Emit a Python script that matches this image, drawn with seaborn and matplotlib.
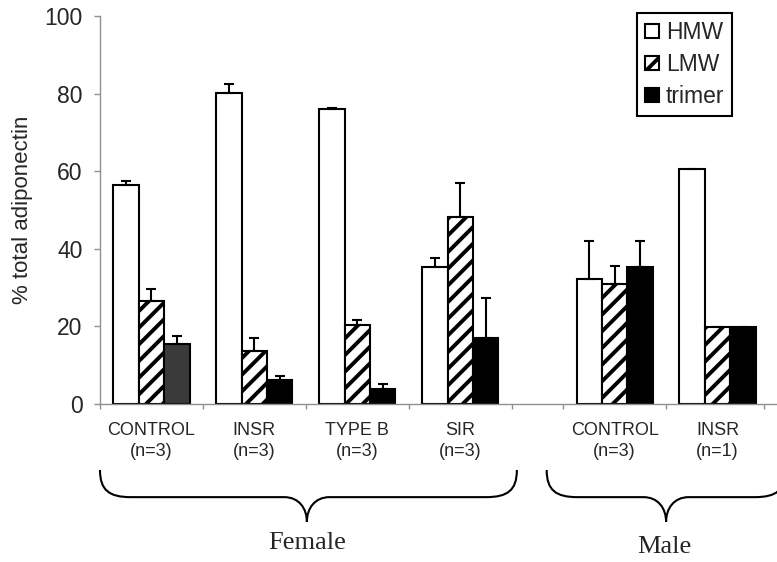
import numpy as np
import pandas as pd
import matplotlib
matplotlib.use("Agg")
import matplotlib.pyplot as plt
import matplotlib.transforms as mtransforms
from matplotlib.path import Path
from matplotlib.patches import PathPatch, Patch
import seaborn as sns

# Data
groups = ["CONTROL\n(n=3)", "INSR\n(n=3)", "TYPE B\n(n=3)", "SIR\n(n=3)",
          "CONTROL\n(n=3)", "INSR\n(n=1)"]
sex = ["Female", "Female", "Female", "Female", "Male", "Male"]
forms = ["HMW", "LMW", "trimer"]
hmw = [56.4, 80.2, 76.0, 35.2, 32.1, 60.5]
lmw = [26.5, 13.7, 20.4, 48.1, 30.9, 19.8]
trimer = [15.5, 6.2, 3.8, 16.9, 35.2, 19.8]
hmw_err = [1.2, 2.4, 0.3, 2.4, 10.0, np.nan]
lmw_err = [3.1, 3.2, 1.2, 8.9, 4.7, np.nan]
trimer_err = [2.1, 1.0, 1.3, 10.3, 6.9, np.nan]

# x positions (female groups one slot apart, male block shifted by half a slot)
group_pos = [0, 1, 2, 3, 4.5, 5.5]

df = pd.DataFrame({
    "pos": group_pos * 3,
    "form": np.repeat(forms, len(groups)),
    "value": hmw + lmw + trimer,
})
errs = [hmw_err, lmw_err, trimer_err]

sns.set_style("ticks")
plt.rcParams["font.family"] = ["Liberation Sans", "DejaVu Sans"]
plt.rcParams["hatch.linewidth"] = 2.8

fig = plt.figure(figsize=(7.77, 5.62), dpi=100)
ax = fig.add_axes([0.1287, 0.2811, 0.8703, 0.6904])

sns.barplot(data=df, x="pos", y="value", hue="form", hue_order=forms,
            native_scale=True, width=0.74, errorbar=None, legend=False,
            edgecolor="black", linewidth=1.5, ax=ax)

styles = [
    dict(facecolor="white", hatch=None),
    dict(facecolor="white", hatch="//"),
    dict(facecolor="black", hatch=None),
]
bar_conts = list(ax.containers)
for i, cont in enumerate(bar_conts):
    for bar in cont.patches:
        bar.set_facecolor(styles[i]["facecolor"])
        bar.set_edgecolor("black")
        bar.set_linewidth(1.5)
        if styles[i]["hatch"]:
            bar.set_hatch(styles[i]["hatch"])
    # upper-only error bars
    xs = [b.get_x() + b.get_width() / 2 for b in cont.patches]
    ys = [b.get_height() for b in cont.patches]
    e = np.array(errs[i])
    ax.errorbar(xs, ys, yerr=[np.zeros_like(e), e], fmt="none",
                ecolor="black", elinewidth=1.5, capsize=3.6, capthick=1.5,
                zorder=1)
# female control trimer bar is dark grey
bar_conts[2].patches[0].set_facecolor("#3a3a3a")

ax.set_ylim(0, 100)
ax.set_yticks([0, 20, 40, 60, 80, 100])
ax.set_xlim(-0.5, 6.07)
ax.set_ylabel("% total adiponectin", fontsize=16, labelpad=8)
ax.set_xlabel("")

# boundary ticks (major, unlabeled) and group labels (minor)
ax.set_xticks([-0.5, 0.5, 1.5, 2.5, 3.5, 4.0, 5.0, 5.95])
ax.set_xticklabels([])
ax.set_xticks(group_pos, minor=True)
ax.set_xticklabels(groups, minor=True, fontsize=13, linespacing=1.3)
ax.tick_params(axis="x", which="major", length=3.5, color="#909090", width=1)
ax.tick_params(axis="x", which="minor", length=0, pad=13)
ax.tick_params(axis="y", length=4.5, color="#909090", width=1, pad=8,
               labelsize=16.5)

sns.despine(ax=ax)
for s in ["left", "bottom"]:
    ax.spines[s].set_color("#909090")
    ax.spines[s].set_linewidth(1)

# legend
handles = [Patch(facecolor="white", edgecolor="black", linewidth=1.5, label="HMW"),
           Patch(facecolor="white", edgecolor="black", linewidth=1.5, hatch="//", label="LMW"),
           Patch(facecolor="black", edgecolor="black", linewidth=1.5, label="trimer")]
leg = ax.legend(handles=handles, loc="upper right", bbox_to_anchor=(0.935, 1.008),
                borderaxespad=0, fontsize=16.5, handlelength=0.6, handleheight=0.6,
                handletextpad=0.3, labelspacing=0.4, borderpad=0.35,
                fancybox=False, framealpha=1, edgecolor="black")
leg.get_frame().set_linewidth(1.5)


# curly braces under the groups
def brace(x0, x1, xc, ytop=-0.170, yflat=-0.240, ytip=-0.304, r=0.30, r2=0.22):
    v = [(x0, ytop),
         (x0, ytop + 0.75 * (yflat - ytop)), (x0 + 0.3 * r, yflat), (x0 + r, yflat),
         (xc - r2, yflat),
         (xc - 0.35 * r2, yflat), (xc, yflat + 0.45 * (ytip - yflat)), (xc, ytip),
         (xc, yflat + 0.45 * (ytip - yflat)), (xc + 0.35 * r2, yflat), (xc + r2, yflat),
         (x1 - r, yflat),
         (x1 - 0.3 * r, yflat), (x1, ytop + 0.75 * (yflat - ytop)), (x1, ytop)]
    c = [Path.MOVETO, Path.CURVE4, Path.CURVE4, Path.CURVE4, Path.LINETO,
         Path.CURVE4, Path.CURVE4, Path.CURVE4, Path.CURVE4, Path.CURVE4, Path.CURVE4,
         Path.LINETO, Path.CURVE4, Path.CURVE4, Path.CURVE4]
    trans = mtransforms.blended_transform_factory(ax.transData, ax.transAxes)
    ax.add_patch(PathPatch(Path(v, c), facecolor="none", edgecolor="black",
                           linewidth=1.5, transform=trans, clip_on=False))


brace(-0.5, 3.55, 1.51)
brace(3.84, 6.16, 5.0)

trans = mtransforms.blended_transform_factory(ax.transData, ax.transAxes)
ax.text(1.51, -0.358, "Female", transform=trans, ha="center", va="center",
        fontsize=19, family=["Liberation Serif", "DejaVu Serif"])
ax.text(4.98, -0.369, "Male", transform=trans, ha="center", va="center",
        fontsize=19, family=["Liberation Serif", "DejaVu Serif"])

fig.savefig("out.png", dpi=100)
